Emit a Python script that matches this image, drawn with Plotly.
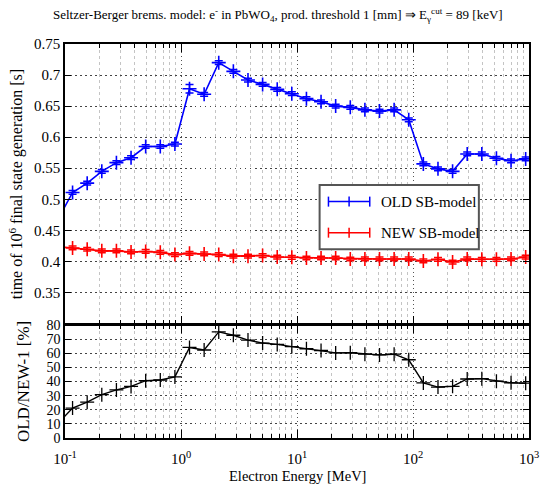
import plotly.graph_objects as go

# Electron kinetic energies [MeV] (log-spaced grid; first point lies just below 0.1 MeV)
energy = [0.0870, 0.1162, 0.1553, 0.2076, 0.2775, 0.3710, 0.4959, 0.6629, 0.8860,
          1.184, 1.583, 2.115, 2.828, 3.780, 5.052, 6.753, 9.023,
          12.06, 16.12, 21.54, 28.80, 38.49, 51.44, 68.76, 91.90,
          122.8, 164.2, 219.4, 293.3, 392.0, 524.0, 700.3, 936.0]

# time of 10^6 final state generations [s]
old_sb = [0.468, 0.511, 0.526, 0.545, 0.559, 0.567, 0.585, 0.585, 0.589,
          0.678, 0.669, 0.720, 0.706, 0.692, 0.685, 0.677, 0.670,
          0.662, 0.657, 0.650, 0.648, 0.644, 0.642, 0.644, 0.628,
          0.557, 0.549, 0.545, 0.573, 0.573, 0.566, 0.562, 0.565]
old_err = [0.003] * 9 + [0.007] + [0.003] * 23

new_sb = [0.424, 0.4217, 0.4196, 0.417, 0.417, 0.4152, 0.416, 0.4146, 0.411,
          0.413, 0.412, 0.411, 0.4085, 0.4085, 0.4095, 0.407, 0.4066,
          0.4055, 0.4055, 0.4055, 0.4039, 0.404, 0.404, 0.404, 0.404,
          0.4007, 0.4034, 0.399, 0.404, 0.4034, 0.4034, 0.404, 0.407]
new_err = [0.003] * 33

# relative slow-down of the old model [%]
ratio_pct = [(o / n - 1.0) * 100.0 for o, n in zip(old_sb, new_sb)]

major_x = [0.1, 1, 10, 100, 1000]
major_x_text = ["10<sup>-1</sup>", "10<sup>0</sup>", "10<sup>1</sup>",
                "10<sup>2</sup>", "10<sup>3</sup>"]
minor_x = [m * d for d in [0.1, 1, 10, 100] for m in range(2, 10)]
top_y_ticks = [0.35, 0.4, 0.45, 0.5, 0.55, 0.6, 0.65, 0.7, 0.75]
bot_y_ticks = [0, 10, 20, 30, 40, 50, 60, 70, 80]

FONT = "Liberation Serif, Times New Roman, Times, serif"
BLUE = "#0000ff"
RED = "#ff0000"

fig = go.Figure()

fig.add_trace(go.Scatter(
    x=energy, y=old_sb, xaxis="x2", yaxis="y", mode="lines+markers",
    name="OLD SB-model", line=dict(color=BLUE, width=1.6),
    marker=dict(symbol="cross-thin", size=10, line=dict(color=BLUE, width=1.6)),
    error_y=dict(type="data", array=old_err, color=BLUE, thickness=1.5, width=4),
    showlegend=False, cliponaxis=True))

fig.add_trace(go.Scatter(
    x=energy, y=new_sb, xaxis="x2", yaxis="y", mode="lines+markers",
    name="NEW SB-model", line=dict(color=RED, width=1.6),
    marker=dict(symbol="cross-thin", size=10, line=dict(color=RED, width=1.6)),
    error_y=dict(type="data", array=new_err, color=RED, thickness=1.5, width=4),
    showlegend=False, cliponaxis=True))

fig.add_trace(go.Scatter(
    x=energy, y=ratio_pct, xaxis="x", yaxis="y2", mode="lines+markers",
    line=dict(color="black", width=1.4),
    marker=dict(symbol="cross-thin", size=10, line=dict(color="black", width=1.3)),
    showlegend=False, cliponaxis=True))

xcommon = dict(
    type="log", range=[-1, 3], showline=True, linecolor="black", linewidth=1.6,
    mirror="ticks", ticks="inside", ticklen=8, tickwidth=1, tickcolor="black",
    tickvals=major_x, ticktext=major_x_text,
    showgrid=True, gridcolor="#555555", gridwidth=1, griddash="1px,3px",
    zeroline=False,
    minor=dict(tickvals=minor_x, ticks="inside", ticklen=4, tickcolor="black",
               tickwidth=1, showgrid=True, gridcolor="#c4c4c4", gridwidth=1,
               griddash="3px,3px"),
    tickfont=dict(family=FONT, size=15, color="black"),
)

fig.update_layout(
    width=551, height=484,
    margin=dict(l=65, r=14, t=44, b=46),
    paper_bgcolor="white", plot_bgcolor="white",
    font=dict(family=FONT, color="black"),
    xaxis=dict(**xcommon, anchor="y2", domain=[0, 1], ticklabelstandoff=6),
    xaxis2=dict(**xcommon, anchor="y", domain=[0, 1], matches="x",
                showticklabels=False),
    yaxis=dict(domain=[0.2905, 1], anchor="x2", range=[0.3, 0.75],
               tickvals=top_y_ticks, ticktext=[f"{v:g}" for v in top_y_ticks],
               showline=True, linecolor="black", linewidth=1.6, mirror="ticks",
               ticks="inside", ticklen=6, tickcolor="black",
               showgrid=True, gridcolor="#444444", gridwidth=1.3,
               griddash="1.5px,3.5px", zeroline=False,
               tickfont=dict(family=FONT, size=15, color="black")),
    yaxis2=dict(domain=[0, 0.2865], anchor="x", range=[0, 80],
                tickvals=bot_y_ticks, showline=True, linecolor="black",
                linewidth=1.6, mirror="ticks", ticks="inside", ticklen=6,
                tickcolor="black", showgrid=True, gridcolor="#444444",
                gridwidth=1.3, griddash="1.5px,3.5px", zeroline=False,
                tickfont=dict(family=FONT, size=14, color="black")),
)

# titles
fig.add_annotation(
    text="Seltzer-Berger brems. model: e<sup>-</sup> in PbWO<sub>4</sub>, prod. threshold 1 [mm] "
         "\u21d2 E<sub>\u03b3</sub><sup>cut</sup> = 89 [keV]",
    xref="paper", yref="paper", x=0.46, y=1.0, yshift=29,
    showarrow=False, font=dict(family=FONT, size=13, color="black"),
    xanchor="center", yanchor="middle")
fig.add_annotation(
    text="time of 10<sup>6</sup> final state generation [s]",
    xref="paper", yref="paper", x=0, xshift=-49, y=0.644, textangle=-90,
    showarrow=False, font=dict(family=FONT, size=16, color="black"),
    xanchor="center", yanchor="middle")
fig.add_annotation(
    text="OLD/NEW-1 [%]",
    xref="paper", yref="paper", x=0, xshift=-42, y=0.142, textangle=-90,
    showarrow=False, font=dict(family=FONT, size=17, color="black"),
    xanchor="center", yanchor="middle")
fig.add_annotation(
    text="Electron Energy [MeV]",
    xref="paper", yref="paper", x=0.5, y=0, yshift=-38,
    showarrow=False, font=dict(family=FONT, size=14.5, color="black"),
    xanchor="center", yanchor="middle")

# legend box drawn in paper coordinates
W, H = 472.0, 393.7
def px(xp):
    return (xp - 65) / W
def py(yp):
    return 1 - (yp - 44) / H

fig.add_shape(type="rect", xref="paper", yref="paper",
              x0=px(324), x1=px(486), y0=py(249), y1=py(185),
              line=dict(color="#555555", width=2), fillcolor="white", layer="above")
for row_y, col, label in [(201.5, BLUE, "OLD SB-model"), (232.5, RED, "NEW SB-model")]:
    fig.add_shape(type="line", xref="paper", yref="paper",
                  x0=px(333), x1=px(375), y0=py(row_y), y1=py(row_y),
                  line=dict(color=col, width=1.5), layer="above")
    for xx in (333, 354, 375):
        fig.add_shape(type="line", xref="paper", yref="paper",
                      x0=px(xx), x1=px(xx), y0=py(row_y - 5), y1=py(row_y + 5),
                      line=dict(color=col, width=1.5), layer="above")
    fig.add_annotation(text=label, xref="paper", yref="paper",
                       x=px(384), y=py(row_y), showarrow=False,
                       xanchor="left", yanchor="middle",
                       font=dict(family=FONT, size=15, color="black"))

fig.write_html("out.html")
